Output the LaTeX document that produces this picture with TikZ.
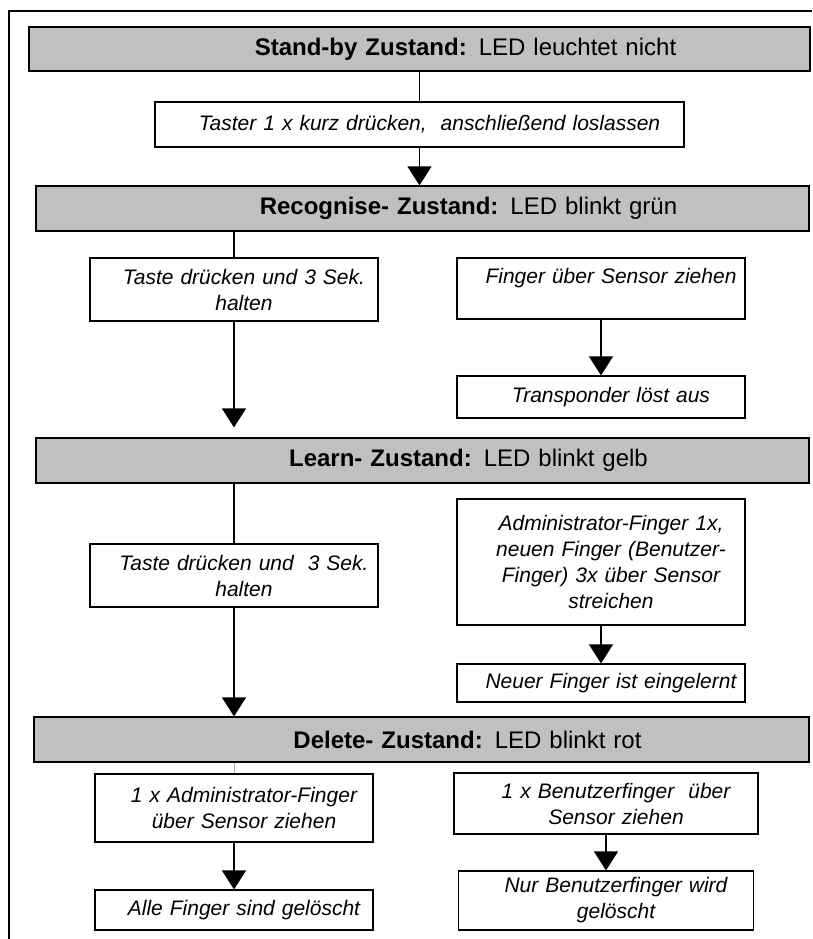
\documentclass[tikz,border=0pt]{standalone}
\usepackage{fontspec}
\setmainfont{Liberation Sans}
\usetikzlibrary{arrows.meta}
\definecolor{grau}{RGB}{192,192,192}

\begin{document}
\begin{tikzpicture}[x=1pt, y=-1pt,
  zustand/.style={draw, fill=grau, line width=1.2pt, inner xsep=0pt, text width=#1,
    align=center, minimum height=45pt, font=\fontsize{24}{28}\selectfont,
    execute at begin node={\leftskip=92pt plus 1fil\rightskip=0pt plus 1fil\relax}},
  schritt/.style={draw, fill=white, line width=1.2pt, inner xsep=0pt, text width=#1,
    align=center, font=\fontsize{21}{26}\selectfont\itshape,
    execute at begin node={\leftskip=20pt plus 1fil\rightskip=0pt plus 1fil\relax}},
  linie/.style={line width=1.2pt},
  pfeil/.style={line width=1.2pt, -{Triangle[width=24pt,length=19pt]}}]
\useasboundingbox (0,0) rectangle (812,939);
\draw[line width=1.2pt] (812,11) -- (9,11) -- (9,939);

\node[zustand=781pt, minimum height=44pt] (sb) at (419.5,49) {\textbf{Stand-by Zustand:} LED leuchtet nicht};
\node[schritt=529pt, minimum height=45pt] (tst) at (419.5,124.5) {Taster 1 x kurz drücken,\ \ anschließend loslassen};
\node[zustand=773pt] (rec) at (422.5,208.5) {\textbf{Recognise- Zustand:} LED blinkt grün};
\node[schritt=288pt, minimum height=63pt] (rl) at (234,289.5) {Taste drücken und 3 Sek.\\halten};
\node[schritt=288pt, minimum height=61pt] (rr1) at (601,288.5) {Finger über Sensor ziehen\\\mbox{}};
\node[schritt=288pt, minimum height=42pt] (rr2) at (601,397) {Transponder löst aus};
\node[zustand=773pt] (lrn) at (422.5,460.5) {\textbf{Learn- Zustand:} LED blinkt gelb};
\node[schritt=288pt, minimum height=63pt] (ll) at (234,575.5) {Taste drücken und\ \ 3 Sek.\\halten};
\node[schritt=288pt, minimum height=126pt] (lr1) at (601,562) {Administrator-Finger 1x,\\neuen Finger (Benutzer-\\Finger) 3x über Sensor\\streichen};
\node[schritt=288pt, minimum height=38pt] (lr2) at (601,683) {Neuer Finger ist eingelernt};
\node[zustand=775pt] (del) at (421.5,739.5) {\textbf{Delete- Zustand:} LED blinkt rot};
\node[schritt=278pt, minimum height=68pt] (dl1) at (234,808) {1 x Administrator-Finger\\über Sensor ziehen};
\node[schritt=278pt, minimum height=40pt] (dl2) at (234,910) {Alle Finger sind gelöscht};
\node[schritt=304pt, minimum height=61pt] (dr1) at (606,803.5) {1 x Benutzerfinger\ \ über\\Sensor ziehen};
\node[schritt=295pt, minimum height=59pt] (dr2) at (606,900.5) {Nur Benutzerfinger wird\\gelöscht};

\draw[linie] (sb.south) -- (tst.north);
\draw[pfeil] (tst.south) -- (tst.south |- rec.north);
\draw[linie] (rl.north |- rec.south) -- (rl.north);
\draw[pfeil, shorten >=10pt] (rl.south) -- (rl.south |- lrn.north);
\draw[pfeil] (rr1.south) -- (rr2.north);
\draw[linie] (ll.north |- lrn.south) -- (ll.north);
\draw[pfeil] (ll.south) -- (ll.south |- del.north);
\draw[pfeil] (lr1.south) -- (lr2.north);
\draw[black!30, thin] (dl1.north |- del.south) -- (dl1.north);
\draw[pfeil] (dl1.south) -- (dl2.north);
\draw[pfeil] (dr1.south) -- (dr2.north);
\end{tikzpicture}
\end{document}
